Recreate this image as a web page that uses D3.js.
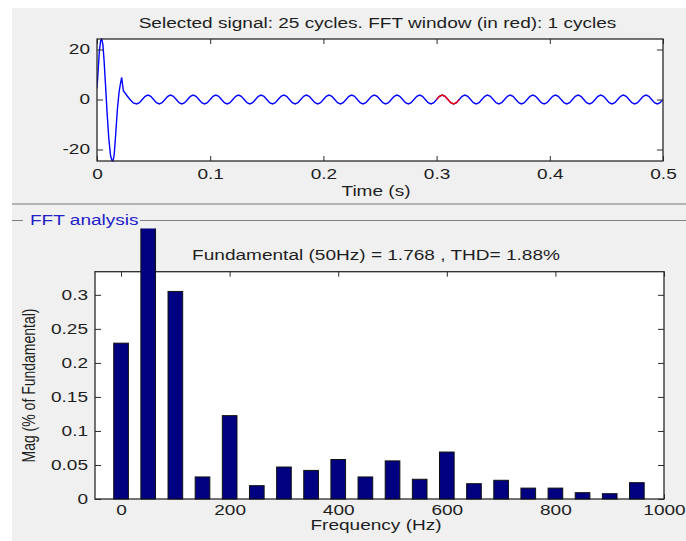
<!DOCTYPE html>
<html><head><meta charset="utf-8">
<script src="https://cdn.jsdelivr.net/npm/d3@7/dist/d3.min.js"></script>
<style>html,body{margin:0;padding:0;background:#fff;} svg{display:block;}</style>
</head><body>
<svg id="c" width="686" height="541"></svg>
<script>
// ---------- data ----------
const signalTitle = "Selected signal: 25 cycles. FFT window (in red): 1 cycles";
const timeLabel = "Time (s)";
const timeTicks = [0, 0.1, 0.2, 0.3, 0.4, 0.5];
const signalTicks = [-20, 0, 20];
const signalDomain = [-24.6, 24.2];
const transientT = [0, 0.0008, 0.002, 0.0032, 0.0042, 0.0052, 0.0062, 0.0075, 0.009, 0.0105, 0.012, 0.0132, 0.0142, 0.0152, 0.0165, 0.018, 0.0195, 0.0208, 0.0218, 0.0233, 0.0262, 0.029, 0.032];
const transientV = [4.4, 10, 19, 23.5, 24.2, 22, 16, 6, -6, -16, -22.5, -24.4, -24.6, -22, -14, -4, 3, 6.5, 8.8, 3.5, 1.7, 0.1, -1.4];
const steadyStart = 0.035, steadyStep = 0.0025;
const steadyV = [
 -1.77,-1.25,0,1.25,1.77,1.25,0,-1.25,
 -1.77,-1.25,0,1.25,1.77,1.25,0,-1.25,
 -1.77,-1.25,0,1.25,1.77,1.25,0,-1.25,
 -1.77,-1.25,0,1.25,1.77,1.25,0,-1.25,
 -1.77,-1.25,0,1.25,1.77,1.25,0,-1.25,
 -1.77,-1.25,0,1.25,1.77,1.25,0,-1.25,
 -1.77,-1.25,0,1.25,1.77,1.25,0,-1.25,
 -1.77,-1.25,0,1.25,1.77,1.25,0,-1.25,
 -1.77,-1.25,0,1.25,1.77,1.25,0,-1.25,
 -1.77,-1.25,0,1.25,1.77,1.25,0,-1.25,
 -1.77,-1.25,0,1.25,1.77,1.25,0,-1.25,
 -1.77,-1.25,0,1.25,1.77,1.25,0,-1.25,
 -1.77,-1.25,0,1.25,1.77,1.25,0,-1.25,
 -1.77,-1.25,0,1.25,1.77,1.25,0,-1.25,
 -1.77,-1.25,0,1.25,1.77,1.25,0,-1.25,
 -1.77,-1.25,0,1.25,1.77,1.25,0,-1.25,
 -1.77,-1.25,0,1.25,1.77,1.25,0,-1.25,
 -1.77,-1.25,0,1.25,1.77,1.25,0,-1.25,
 -1.77,-1.25,0,1.25,1.77,1.25,0,-1.25,
 -1.77,-1.25,0,1.25,1.77,1.25,0,-1.25,
 -1.77,-1.25,0,1.25,1.77,1.25,0,-1.25,
 -1.77,-1.25,0,1.25,1.77,1.25,0,-1.25,
 -1.77,-1.25,0,1.25,1.77,1.25,0,-1.25,
 -1.77,-1.25,0
];
const fftWindow = [0.30, 0.32];

const panelLabel = "FFT analysis";
const fftTitle = "Fundamental (50Hz) = 1.768 , THD= 1.88%";
const freqLabel = "Frequency (Hz)";
const magLabel = "Mag (% of Fundamental)";
const harmonicFreq = [0, 50, 100, 150, 200, 250, 300, 350, 400, 450, 500, 550, 600, 650, 700, 750, 800, 850, 900, 950];
const harmonicMag  = [0.229, 100, 0.305, 0.0324, 0.1225, 0.0196, 0.047, 0.042, 0.058, 0.0324, 0.056, 0.029, 0.069, 0.0225, 0.0275, 0.016, 0.016, 0.0093, 0.0078, 0.024];
const freqTicks = [0, 200, 400, 600, 800, 1000];
const freqDomain = [-48, 1000];
const magTicks = [0, 0.05, 0.1, 0.15, 0.2, 0.25, 0.3];
const magDomain = [0, 0.334];
const barHalfWidth = 13.5;

// ---------- drawing ----------
const SX = 1.36;
const FONT = "'Liberation Sans', Arial, sans-serif";
const TXT = "#1e1e1e";
const plain = d => String(d);
const svg = d3.select("#c");

svg.append("rect").attr("x", 12).attr("y", 8).attr("width", 674).attr("height", 533).attr("fill", "#f0f0f0");

function label(x, y, text, opts = {}) {
  return svg.append("text")
    .attr("transform", `translate(${x},${y}) scale(${SX},1)` + (opts.rotate ? ` rotate(${opts.rotate})` : ""))
    .attr("text-anchor", opts.anchor || "middle")
    .attr("font-family", FONT).attr("font-size", opts.size || 14)
    .attr("fill", opts.color || TXT)
    .text(text);
}
function stretchTicks(g) {
  g.selectAll(".tick text").each(function () {
    const x = +(this.getAttribute("x") || 0);
    d3.select(this).attr("transform", `translate(${x * (1 - SX)},0) scale(${SX},1)`);
  });
}
function styleAxis(g) {
  g.select(".domain").remove();
  g.selectAll(".tick line").attr("stroke", "#2a2a2a").attr("stroke-width", 1);
  g.selectAll(".tick text").attr("font-family", FONT).attr("font-size", 14).attr("fill", TXT);
}

// ---- top: signal ----
const tx = d3.scaleLinear().domain([0, 0.5]).range([97, 663]);
const ty = d3.scaleLinear().domain(signalDomain).range([161, 39]);

svg.append("rect").attr("x", 97).attr("y", 39).attr("width", 566).attr("height", 122).attr("fill", "#fff");
svg.append("clipPath").attr("id", "clipTop").append("rect").attr("x", 97).attr("y", 38).attr("width", 566).attr("height", 124);

const pts = transientT.map((t, i) => ({ t, v: transientV[i] }))
  .concat(steadyV.map((v, i) => ({ t: steadyStart + i * steadyStep, v })));
const line = d3.line().x(d => tx(d.t)).y(d => ty(d.v));
const gSig = svg.append("g").attr("clip-path", "url(#clipTop)");
gSig.append("path").datum(pts).attr("d", line).attr("fill", "none").attr("stroke", "#0000ff").attr("stroke-width", 1.4);
const eps = 1e-9;
gSig.append("path").datum(pts.filter(d => d.t >= fftWindow[0] - eps && d.t <= fftWindow[1] + eps))
  .attr("d", line).attr("fill", "none").attr("stroke", "#ff0000").attr("stroke-width", 1.4);

let g;
g = svg.append("g").attr("transform", "translate(0,161)").call(d3.axisBottom(tx).tickValues(timeTicks).tickSize(-5).tickPadding(8).tickFormat(plain));
styleAxis(g); stretchTicks(g);
g = svg.append("g").attr("transform", "translate(0,39)").call(d3.axisTop(tx).tickValues(timeTicks).tickSize(-5).tickFormat(""));
styleAxis(g);
g = svg.append("g").attr("transform", "translate(97,0)").call(d3.axisLeft(ty).tickValues(signalTicks).tickSize(-6).tickPadding(7).tickFormat(plain));
styleAxis(g); stretchTicks(g);
g = svg.append("g").attr("transform", "translate(663,0)").call(d3.axisRight(ty).tickValues(signalTicks).tickSize(-6).tickFormat(""));
styleAxis(g);
svg.append("rect").attr("x", 97).attr("y", 39).attr("width", 566).attr("height", 122).attr("fill", "none").attr("stroke", "#2a2a2a").attr("stroke-width", 1.3);

label(377.5, 28, signalTitle);
label(376, 196, timeLabel);

// ---- separators / panel ----
svg.append("rect").attr("x", 12).attr("y", 203).attr("width", 674).attr("height", 2).attr("fill", "#b4b4b4");
svg.append("line").attr("x1", 12).attr("x2", 23).attr("y1", 220.5).attr("y2", 220.5).attr("stroke", "#808080");
svg.append("line").attr("x1", 140).attr("x2", 686).attr("y1", 220.5).attr("y2", 220.5).attr("stroke", "#808080");
label(30, 224.5, panelLabel, { anchor: "start", color: "#2020c8" });

// ---- bottom: FFT ----
const fx = d3.scaleLinear().domain(freqDomain).range([95, 664]);
const fy = d3.scaleLinear().domain(magDomain).range([499, 271.7]);

svg.append("rect").attr("x", 95).attr("y", 271.7).attr("width", 569).attr("height", 227.3).attr("fill", "#fff");
g = svg.append("g").attr("transform", "translate(0,499)").call(d3.axisBottom(fx).tickValues(freqTicks).tickSize(-5).tickPadding(6).tickFormat(plain));
styleAxis(g); stretchTicks(g);
g = svg.append("g").attr("transform", "translate(0,271.7)").call(d3.axisTop(fx).tickValues(freqTicks).tickSize(-5).tickFormat(""));
styleAxis(g);
g = svg.append("g").attr("transform", "translate(95,0)").call(d3.axisLeft(fy).tickValues(magTicks).tickSize(-6).tickPadding(7).tickFormat(plain));
styleAxis(g); stretchTicks(g);
g = svg.append("g").attr("transform", "translate(664,0)").call(d3.axisRight(fy).tickValues(magTicks).tickSize(-6).tickFormat(""));
styleAxis(g);
svg.append("rect").attr("x", 95).attr("y", 271.7).attr("width", 569).attr("height", 227.3).attr("fill", "none").attr("stroke", "#2a2a2a").attr("stroke-width", 1.3);

svg.append("clipPath").attr("id", "clipPanel").append("rect").attr("x", 12).attr("y", 228.5).attr("width", 674).attr("height", 312);
svg.append("g").attr("clip-path", "url(#clipPanel)")
  .selectAll("rect").data(harmonicFreq).join("rect")
  .attr("x", (f) => fx(f - barHalfWidth))
  .attr("width", (f) => fx(f + barHalfWidth) - fx(f - barHalfWidth))
  .attr("y", (f, i) => fy(harmonicMag[i]))
  .attr("height", (f, i) => fy(0) - fy(harmonicMag[i]))
  .attr("fill", "#000080").attr("stroke", "#111").attr("stroke-width", 1);

label(376, 260, fftTitle);
label(376, 530, freqLabel);
label(34.5, 385.5, magLabel, { rotate: -90 });
</script>
</body></html>
